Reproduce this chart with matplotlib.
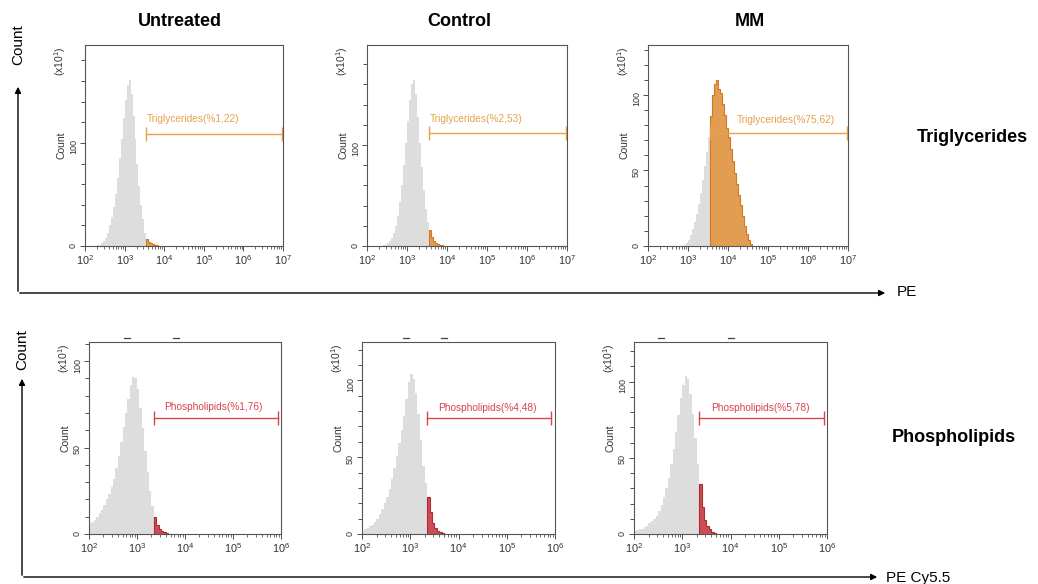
import numpy as np
import matplotlib
matplotlib.use("Agg")
import matplotlib.pyplot as plt
from matplotlib.patches import FancyArrowPatch
from matplotlib.ticker import FixedLocator, MultipleLocator

plt.rcParams["font.family"] = ["Liberation Sans", "DejaVu Sans"]
plt.rcParams["mathtext.fontset"] = "custom"
plt.rcParams["mathtext.rm"] = "Liberation Sans"
plt.rcParams["mathtext.it"] = "Liberation Sans:italic"
plt.rcParams["mathtext.bf"] = "Liberation Sans:bold"

# Histogram counts (x10^1).
# Bins are log-spaced, 0.05 decade wide, first bin starting at 10^2.
BIN_START = 2.0
BIN_STEP = 0.05

columns = ["Untreated", "Control", "MM"]
rows = ["Triglycerides", "Phospholipids"]
x_axis_names = ["PE", "PE Cy5.5"]

tg_untreated = [0, 0, 0, 0, 0, 0, 1, 1, 3, 5, 8, 13, 20, 28, 38, 50, 66, 85, 104, 124,
                142, 156, 161, 147, 126, 104, 80, 58, 40, 26, 13, 7, 4, 2.5, 1.5, 1, 0.5, 0]
tg_control = [0, 0, 0, 0, 0, 0, 0, 0, 0.5, 1, 3, 5, 8, 13, 20, 30, 44, 60, 80, 102,
              124, 145, 160, 164, 150, 128, 102, 78, 55, 37, 24, 16, 9, 5, 3, 2, 1, 0.5, 0]
tg_mm = [0, 0, 0, 0, 0, 0, 0, 0, 0, 0, 0, 0, 0, 0, 0, 0, 0, 0, 0.5, 2,
         4, 7, 11, 16, 21, 28, 35, 44, 53, 62, 72, 86, 100, 107, 110, 104, 101, 94, 87, 78,
         72, 64, 56, 48, 41, 34, 27, 20, 13, 8, 4, 1.5, 0]
pl_untreated = [6, 7, 8, 10, 12, 14, 17, 20, 23, 27, 32, 38, 45, 53, 62, 70, 78, 86, 91, 90,
                84, 73, 61, 48, 36, 25, 16, 10, 5, 3, 1.5, 1, 0.5, 0]
pl_control = [2, 3, 4, 5, 6, 8, 10, 13, 16, 20, 24, 29, 36, 43, 51, 59, 68, 77, 88, 99,
              104, 101, 92, 78, 61, 44, 33, 24, 14, 7, 4, 2, 1, 0.5, 0]
pl_mm = [2, 2.5, 3, 3.5, 4.5, 5.5, 7, 8.5, 10, 12, 15, 19, 24, 30, 37, 46, 56, 67, 78, 89,
         98, 104, 102, 92, 79, 63, 46, 33, 18, 9, 5, 3, 1.5, 0.5, 0]

tg_percent = ["1,22", "2,53", "75,62"]
pl_percent = ["1,76", "4,48", "5,78"]

# gate limits (log10 of intensity)
tg_gate = (3.55, 6.97)
pl_gate = [(3.35, 5.94), (3.35, 5.91), (3.35, 5.93)]

W, H = 1038, 584
fig = plt.figure(figsize=(W / 100, H / 100), dpi=100)

GRAY = "#dddddd"
ORANGE = "#e8a04c"
ORANGE_FILL = "#e39a4c"
ORANGE_EDGE = "#cf7a22"
RED = "#d64550"
RED_FILL = "#c9474c"
RED_EDGE = "#b02a33"
TICK_C = "#333333"


def px_axes(left, top, right, bottom):
    return fig.add_axes([left / W, 1 - bottom / H, (right - left) / W, (bottom - top) / H])


def draw_panel(ax, counts, gate, gate_y, label, label_pos, label_ha, colors,
               ymax, ymajor, yminor, xmax_dec, width_px, height_px):
    line_c, fill_c, edge_c = colors
    counts = np.asarray(counts, dtype=float)
    edges = 10 ** (BIN_START + BIN_STEP * np.arange(len(counts) + 1))
    ax.stairs(counts, edges, fill=True, color=GRAY, lw=0)
    k = int(round((gate[0] - BIN_START) / BIN_STEP))
    ax.stairs(counts[k:], edges[k:], fill=True, color=fill_c, lw=0, alpha=0.95)
    ax.stairs(counts[k:], edges[k:], baseline=0, fill=False, color=edge_c, lw=0.8)

    g0, g1 = 10 ** gate[0], 10 ** gate[1]
    ax.plot([g0, g1], [gate_y, gate_y], color=line_c, lw=1)
    ax.plot([g0, g1], [gate_y, gate_y], ls="none", marker="|", ms=10, mew=1, color=line_c)
    ax.text(10 ** label_pos[0], label_pos[1], label, color=line_c, fontsize=7.3,
            ha=label_ha, va="center")

    ax.set_xscale("log")
    ax.set_xlim(100, 10 ** xmax_dec)
    ax.set_ylim(0, ymax)
    ax.yaxis.set_major_locator(FixedLocator(ymajor))
    ax.yaxis.set_minor_locator(MultipleLocator(yminor))
    ax.tick_params(axis="y", which="major", labelsize=6.5, labelrotation=90, length=3.5,
                   width=0.6, pad=1.5, colors=TICK_C)
    ax.tick_params(axis="y", which="minor", length=3, width=0.6, colors=TICK_C)
    ax.tick_params(axis="x", which="major", labelsize=7.8, length=3.5, width=0.6, pad=2,
                   colors=TICK_C)
    ax.tick_params(axis="x", which="minor", length=2.5, width=0.5, colors=TICK_C)
    for s in ax.spines.values():
        s.set_color("#555555")
        s.set_linewidth(0.8)
    ax.set_ylabel("Count", fontsize=7.5, labelpad=2, color=TICK_C)
    ax.text(-25 / width_px, 1 - 16 / height_px, r"(x10$^1$)", transform=ax.transAxes,
            rotation=90, fontsize=7.5, ha="center", va="center", color=TICK_C)


# top row: triglycerides
tg_counts = [tg_untreated, tg_control, tg_mm]
tg_boxes = [(85, 45, 283, 246), (367, 45, 567, 246), (648, 45, 848, 246)]
tg_ymax = [195, 199, 133]
tg_gate_y = [109, 111.6, 74.5]
tg_label_pos = [(3.55, 123), (3.56, 126), (4.21, 83.5)]
tg_yminor = [20, 20, 10]
tg_ymajor = [[0, 100], [0, 100], [0, 50, 100]]
for i in range(3):
    l, t, r, b = tg_boxes[i]
    ax = px_axes(l, t, r, b)
    draw_panel(ax, tg_counts[i], tg_gate, tg_gate_y[i],
               f"Triglycerides(%{tg_percent[i]})", tg_label_pos[i], "left",
               (ORANGE, ORANGE_FILL, ORANGE_EDGE), tg_ymax[i], tg_ymajor[i],
               tg_yminor[i], 7, r - l, b - t)

# bottom row: phospholipids
pl_counts = [pl_untreated, pl_control, pl_mm]
pl_boxes = [(89, 342, 281, 534), (362, 342, 555, 534), (634, 342, 827, 534)]
pl_ymax = [111, 125, 126]
pl_gate_y = [67, 75.6, 76.4]
pl_label_pos = [(4.6, 73.5), (4.6, 82), (4.62, 83)]
pl_dashes = [(0.198, 0.453), (0.228, 0.425), (0.14, 0.503)]
for i in range(3):
    l, t, r, b = pl_boxes[i]
    ax = px_axes(l, t, r, b)
    draw_panel(ax, pl_counts[i], pl_gate[i], pl_gate_y[i],
               f"Phospholipids(%{pl_percent[i]})", pl_label_pos[i], "center",
               (RED, RED_FILL, RED_EDGE), pl_ymax[i], [0, 50, 100], 10, 6, r - l, b - t)
    for xd in pl_dashes[i]:
        ax.plot([xd - 0.016, xd + 0.016], [1.022, 1.022], transform=ax.transAxes,
                color="#444444", lw=0.9, clip_on=False)

# column and row titles
title_x = [180, 459, 750]
for name, x in zip(columns, title_x):
    fig.text(x / W, 1 - 22 / H, name, fontsize=13, fontweight="bold", ha="center", va="center")
fig.text(972 / W, 1 - 138 / H, rows[0], fontsize=13, fontweight="bold", ha="center", va="center")
fig.text(954 / W, 1 - 438 / H, rows[1], fontsize=13, fontweight="bold", ha="center", va="center")


def fig_arrow(x0, y0, x1, y1):
    fig.add_artist(FancyArrowPatch((x0 / W, 1 - y0 / H), (x1 / W, 1 - y1 / H),
                                   transform=fig.transFigure, arrowstyle="-|>",
                                   mutation_scale=9, lw=1, color="black"))


# big axis arrows
fig_arrow(18, 294, 18, 84)
fig_arrow(17, 293, 888, 293)
fig.text(18 / W, 1 - 45 / H, "Count", rotation=90, fontsize=11, ha="center", va="center")
fig.text(897 / W, 1 - 292 / H, x_axis_names[0], fontsize=11, ha="left", va="center")

fig_arrow(22, 578, 22, 376)
fig_arrow(21, 577, 880, 577)
fig.text(22 / W, 1 - 350 / H, "Count", rotation=90, fontsize=11, ha="center", va="center")
fig.text(886 / W, 1 - 578 / H, x_axis_names[1], fontsize=11, ha="left", va="center")

fig.savefig("out.png", dpi=100)
